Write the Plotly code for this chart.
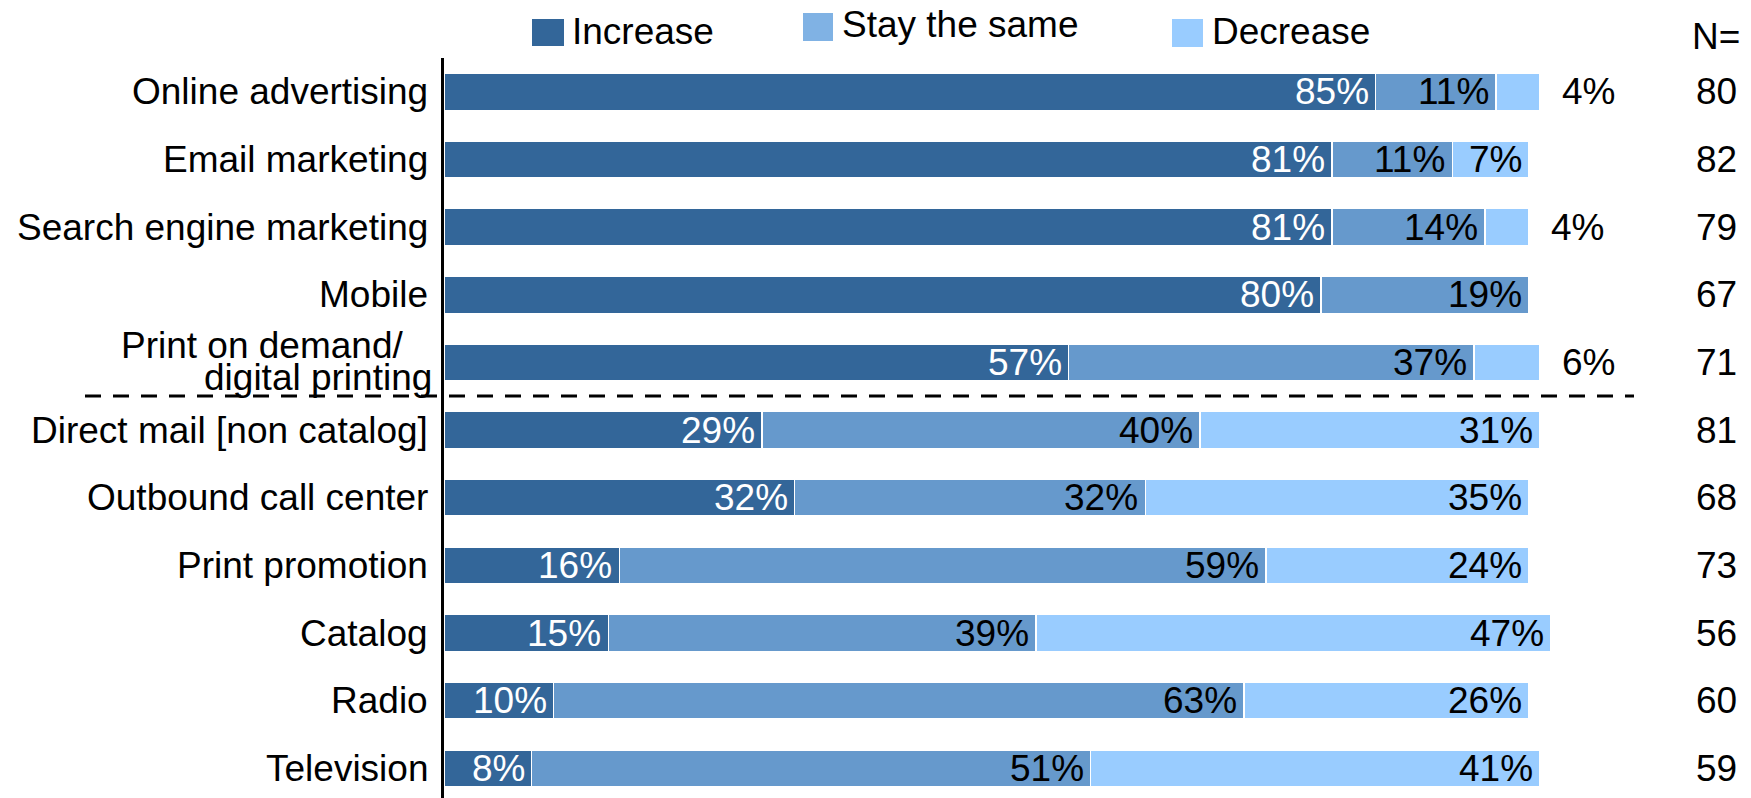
import plotly.graph_objects as go

# ---------------- data ----------------
categories = [
    "Online advertising",
    "Email marketing",
    "Search engine marketing",
    "Mobile",
    "Print on demand/<br>digital printing",
    "Direct mail [non catalog]",
    "Outbound call center",
    "Print promotion",
    "Catalog",
    "Radio",
    "Television",
]
increase = [85, 81, 81, 80, 57, 29, 32, 16, 15, 10, 8]
stay_same = [11, 11, 14, 19, 37, 40, 32, 59, 39, 63, 51]
decrease = [4, 7, 4, 0, 6, 31, 35, 24, 47, 26, 41]
n_values = [80, 82, 79, 67, 71, 81, 68, 73, 56, 60, 59]
series_names = ["Increase", "Stay the same", "Decrease"]
n_header = "N="

# ---------------- style ----------------
FONT = "Liberation Sans, Arial, sans-serif"
FS = 37
bar_colors = ["#336699", "#6699CC", "#99CCFF"]
legend_colors = ["#336699", "#80B2E4", "#99CCFF"]
label_colors = ["white", "black", "black"]

W_PX, H_PX = 1751, 798
L, T = 444, 58
PW, PH = W_PX - L, H_PX - T
UNIT = 10.96  # px per percentage point
x_max = PW / UNIT
row_px = 67.65
y_top = -0.5
y_bottom = y_top + PH / row_px


def pxx(px):
    return (px - L) / PW


def pxy(py):
    return 1 - (py - T) / PH


fig = go.Figure()
series = [increase, stay_same, decrease]
idx = list(range(len(categories)))
for name, vals, col in zip(series_names, series, bar_colors):
    fig.add_trace(go.Bar(
        y=idx, x=vals, orientation="h", name=name,
        marker=dict(color=col, line=dict(color="white", width=1.5)),
        showlegend=False, hoverinfo="skip",
    ))

annotations = []
# segment labels
for i in idx:
    cum = 0
    for s, vals in enumerate(series):
        v = vals[i]
        cum += v
        if v <= 0:
            continue
        if s == 2 and v <= 6:
            annotations.append(dict(
                x=cum, y=i, xref="x", yref="y", text=f"{v}%", showarrow=False,
                xanchor="left", yanchor="middle", xshift=20,
                font=dict(family=FONT, size=FS, color="black")))
        else:
            annotations.append(dict(
                x=cum, y=i, xref="x", yref="y", text=f"{v}%", showarrow=False,
                xanchor="right", yanchor="middle", xshift=-5,
                font=dict(family=FONT, size=FS, color=label_colors[s])))

# category labels
for i, cat in enumerate(categories):
    lines = cat.split("<br>")
    if len(lines) == 1:
        annotations.append(dict(
            x=0, y=i, xref="paper", yref="y", text=cat, showarrow=False,
            xanchor="right", yanchor="middle", xshift=-14,
            font=dict(family=FONT, size=FS, color="black")))
    else:
        shifts = [(-38, 17), (-10, -15)]
        for line, (xs, ys) in zip(lines, shifts):
            annotations.append(dict(
                x=0, y=i, xref="paper", yref="y", text=line, showarrow=False,
                xanchor="right", yanchor="middle", xshift=xs, yshift=ys,
                font=dict(family=FONT, size=FS, color="black")))

# N column
annotations.append(dict(
    x=pxx(1742), y=pxy(36), xref="paper", yref="paper", text=n_header,
    showarrow=False, xanchor="right", yanchor="middle",
    font=dict(family=FONT, size=FS, color="black")))
for i, n in enumerate(n_values):
    annotations.append(dict(
        x=pxx(1739), y=i, xref="paper", yref="y", text=str(n),
        showarrow=False, xanchor="right", yanchor="middle",
        font=dict(family=FONT, size=FS, color="black")))

# custom legend
shapes = []
legend_pos = [  # square x0, x1, y0, y1, text x, text y
    (532, 564, 19, 46, 570, 31),
    (803, 833, 13, 41, 840, 25),
    (1172, 1203, 19, 47, 1210, 31),
]
for name, col, (x0, x1, y0, y1, tx, ty) in zip(series_names, legend_colors, legend_pos):
    shapes.append(dict(type="rect", xref="paper", yref="paper",
                       x0=pxx(x0), x1=pxx(x1), y0=pxy(y1), y1=pxy(y0),
                       fillcolor=col, line=dict(width=0)))
    annotations.append(dict(
        x=pxx(tx), y=pxy(ty), xref="paper", yref="paper", text=name,
        showarrow=False, xanchor="left", yanchor="middle",
        font=dict(family=FONT, size=FS, color="black")))

# dashed separator
shapes.append(dict(type="line", xref="paper", yref="paper",
                   x0=pxx(85), x1=pxx(1634), y0=pxy(396), y1=pxy(396),
                   line=dict(color="black", width=3, dash="16px,12px"),
                   layer="above"))

fig.update_layout(
    width=W_PX, height=H_PX,
    margin=dict(l=L, r=0, t=T, b=0, pad=0),
    barmode="stack", bargap=0.453,
    paper_bgcolor="white", plot_bgcolor="white",
    font=dict(family=FONT, size=FS, color="black"),
    xaxis=dict(range=[0, x_max], showgrid=False, zeroline=False,
               showticklabels=False, showline=False, fixedrange=True),
    yaxis=dict(range=[y_bottom, y_top], showgrid=False, zeroline=False,
               showticklabels=False, showline=True, linecolor="black",
               linewidth=2.5, ticks="", fixedrange=True),
    annotations=annotations, shapes=shapes, showlegend=False,
)

fig.write_html("out.html")
